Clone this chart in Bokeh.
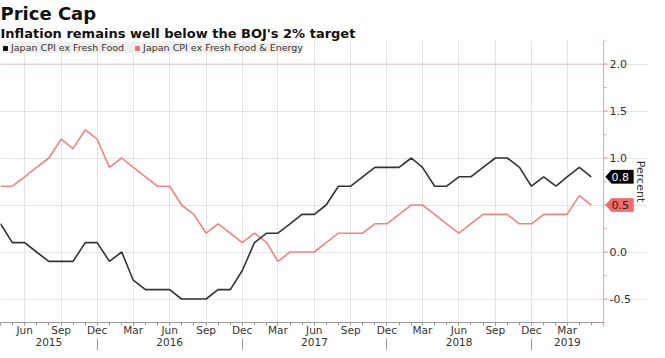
import math
import pandas as pd
from bokeh.plotting import figure
from bokeh.models import (Range1d, FixedTicker, DatetimeAxis, DatetimeTickFormatter,
                          NumeralTickFormatter, Span, Legend, LegendItem, Title, Label,
                          PolyAnnotation, ColumnDataSource)
from bokeh.embed import file_html
from bokeh.resources import INLINE

# ---------------- data ----------------
months = pd.date_range("2015-04-01", "2019-05-01", freq="MS")
cpi_ex_fresh = [0.3, 0.1, 0.1, 0.0, -0.1, -0.1, -0.1, 0.1, 0.1, -0.1,
                0.0, -0.3, -0.4, -0.4, -0.4, -0.5, -0.5, -0.5, -0.4, -0.4,
                -0.2, 0.1, 0.2, 0.2, 0.3, 0.4, 0.4, 0.5, 0.7, 0.7,
                0.8, 0.9, 0.9, 0.9, 1.0, 0.9, 0.7, 0.7, 0.8, 0.8,
                0.9, 1.0, 1.0, 0.9, 0.7, 0.8, 0.7, 0.8, 0.9, 0.8]
cpi_ex_fresh_energy = [0.7, 0.7, 0.8, 0.9, 1.0, 1.2, 1.1, 1.3, 1.2, 0.9,
                       1.0, 0.9, 0.8, 0.7, 0.7, 0.5, 0.4, 0.2, 0.3, 0.2,
                       0.1, 0.2, 0.1, -0.1, 0.0, 0.0, 0.0, 0.1, 0.2, 0.2,
                       0.2, 0.3, 0.3, 0.4, 0.5, 0.5, 0.4, 0.3, 0.2, 0.3,
                       0.4, 0.4, 0.4, 0.3, 0.3, 0.4, 0.4, 0.4, 0.6, 0.5]
series_names = ["Japan CPI ex Fresh Food", "Japan CPI ex Fresh Food & Energy"]
y_ticks = [-0.5, 0.0, 0.5, 1.0, 1.5, 2.0]
target = 2.0
title_text = "Price Cap"
subtitle_text = "Inflation remains well below the BOJ's 2% target"
y_label = "Percent"

BLACK = "#333333"
RED = "#f08580"
TAG_RED = "#f26b6b"
AXIS_RED = "#f4a3a3"
GRID = "#e4e4e4"
FONT = "DejaVu Sans"
NAN = float("nan")

W, H = 657, 350
RIGHT = 10
FRAME_W = W - RIGHT  # frame: data area + strip for value labels, tags and unit label
DATA_W = 603         # width of the data area inside the frame
FRAME_H_EST = 282


def ms(ts):
    return ts.value // 10**6


x_start = months[0]
x_end = months[-1] + pd.DateOffset(months=1)
x0_ms, x1_ms = ms(x_start), ms(x_end)
ms_per_px = (x1_ms - x0_ms) / DATA_W
Y0, Y1 = -0.75, 2.25
ppu = FRAME_H_EST / (Y1 - Y0)


def px_to_x(px):
    return x0_ms + px * ms_per_px


p = figure(width=W, height=H, output_backend="svg", toolbar_location=None,
           x_axis_type="datetime", y_axis_location="right",
           x_range=Range1d(x0_ms, px_to_x(FRAME_W)), y_range=Range1d(Y0, Y1),
           min_border_left=0, min_border_right=RIGHT, min_border_top=0, min_border_bottom=28)
p.outline_line_color = None

# titles (subtitle first so it sits next to the plot)
p.add_layout(Title(text=subtitle_text, text_font=FONT, text_font_size="13px",
                   text_font_style="bold", text_color="#111111", standoff=0, offset=0), "above")
p.add_layout(Title(text=title_text, text_font=FONT, text_font_size="18px",
                   text_font_style="bold", text_color="#111111", standoff=0, offset=0), "above")

# grids limited to the data area
p.xgrid.grid_line_color = GRID
p.ygrid.grid_line_color = GRID
p.ygrid.bounds = (x0_ms, x1_ms)

src = ColumnDataSource(dict(x=months, a=cpi_ex_fresh, b=cpi_ex_fresh_energy))
p.line("x", "b", source=src, line_color=RED, line_width=1.6)
p.line("x", "a", source=src, line_color=BLACK, line_width=1.6)

# target line
p.segment(x0=[x0_ms], x1=[x1_ms], y0=[target], y1=[target], line_color=AXIS_RED,
          line_dash="1 1", line_width=1)

# value axis line and ticks at the end of the data area
p.add_layout(Span(location=x1_ms, dimension="height", line_color=AXIS_RED, line_width=1))
minor_vals = [y_ticks[0] - 0.25 + 0.25 * i for i in range(13)]
p.segment(x0=[x1_ms] * len(y_ticks), x1=[px_to_x(DATA_W + 4)] * len(y_ticks),
          y0=y_ticks, y1=y_ticks, line_color=AXIS_RED, line_width=1)
p.segment(x0=[x1_ms] * len(minor_vals), x1=[px_to_x(DATA_W + 3)] * len(minor_vals),
          y0=minor_vals, y1=minor_vals, line_color=AXIS_RED, line_width=1)

# x axis: months
all_months = pd.date_range(x_start, x_end, freq="MS")
quarter_months = [m for m in all_months if m.month in (3, 6, 9, 12) and m < x_end]
xa = p.xaxis[0]
xa.ticker = FixedTicker(ticks=[ms(m) for m in quarter_months],
                        minor_ticks=[ms(m) for m in all_months])
xa.bounds = (x0_ms, x1_ms)
fmt_keys = ["microseconds", "milliseconds", "seconds", "minsec", "minutes",
            "hourmin", "hours", "days", "months", "years"]
xa.formatter = DatetimeTickFormatter(**{k: "%b" for k in fmt_keys})
xa.axis_line_color = "#9a9a9a"
xa.major_tick_line_color = "#9a9a9a"
xa.minor_tick_line_color = "#9a9a9a"
xa.major_tick_in = 0
xa.major_tick_out = 3
xa.minor_tick_in = 0
xa.minor_tick_out = 3
xa.major_label_standoff = -2
xa.major_label_text_font = FONT
xa.major_label_text_font_size = "10.5px"
xa.major_label_text_color = "#333333"

# x axis: years (separators at the December ticks)
decembers = [m for m in all_months if m.month == 12]
bounds = [x_start] + decembers + [x_end]
year_centers = [ms(bounds[i]) + (ms(bounds[i + 1]) - ms(bounds[i])) / 2
                for i in range(len(bounds) - 1)]
year_axis = DatetimeAxis(ticker=FixedTicker(ticks=year_centers,
                                            minor_ticks=[ms(d) for d in decembers]),
                         formatter=DatetimeTickFormatter(**{k: "%Y" for k in fmt_keys}))
year_axis.bounds = (x0_ms, x1_ms)
year_axis.axis_line_color = None
year_axis.major_tick_line_color = None
year_axis.minor_tick_line_color = "#9a9a9a"
year_axis.minor_tick_in = 0
year_axis.minor_tick_out = 15
year_axis.major_tick_out = 0
year_axis.major_tick_in = 0
year_axis.major_label_standoff = -16
year_axis.major_label_text_font = FONT
year_axis.major_label_text_font_size = "10.5px"
year_axis.major_label_text_color = "#333333"
p.add_layout(year_axis, "below")

# y axis: labels pulled back next to the value-axis line
yax = p.yaxis[0]
yax.ticker = FixedTicker(ticks=y_ticks)
yax.formatter = NumeralTickFormatter(format="0.0")
yax.axis_line_color = None
yax.major_tick_line_color = None
yax.minor_tick_line_color = None
yax.major_tick_in = 0
yax.major_tick_out = 0
yax.major_label_standoff = -(FRAME_W - DATA_W - 6)
yax.major_label_text_font = FONT
yax.major_label_text_font_size = "11px"
yax.major_label_text_color = "#333333"

# "Percent" unit label in the right strip
p.add_layout(Label(x=px_to_x(DATA_W + 37), y=(Y0 + Y1) / 2, text=y_label, angle=-math.pi / 2,
                   text_font=FONT, text_font_size="11px", text_color="#333333",
                   text_align="center", text_baseline="middle"))

# legend with square swatches
q1 = p.quad(left=[NAN], right=[NAN], top=[NAN], bottom=[NAN], fill_color="black", line_color=None)
q2 = p.quad(left=[NAN], right=[NAN], top=[NAN], bottom=[NAN], fill_color=TAG_RED, line_color=None)
legend = Legend(items=[LegendItem(label=series_names[0], renderers=[q1]),
                       LegendItem(label=series_names[1], renderers=[q2])],
                location="top_left", orientation="horizontal",
                background_fill_color="#efefef", background_fill_alpha=1,
                border_line_color=None, label_text_font=FONT,
                label_text_font_size="9.5px", label_text_color="#333333",
                glyph_width=6, glyph_height=6, label_height=11, label_standoff=3,
                spacing=10, padding=6, margin=2)
p.add_layout(legend)

# last-value tags
half = 6.7 / ppu
for val, fill, line, tcol in [(cpi_ex_fresh[-1], "black", "black", "white"),
                              (cpi_ex_fresh_energy[-1], TAG_RED, "#d45050", "#222222")]:
    xs = [px_to_x(DATA_W + 2), px_to_x(DATA_W + 8), px_to_x(DATA_W + 30),
          px_to_x(DATA_W + 30), px_to_x(DATA_W + 8)]
    ys = [val, val + half, val + half, val - half, val - half]
    p.add_layout(PolyAnnotation(xs=xs, ys=ys, fill_color=fill, fill_alpha=1,
                                line_color=line, line_width=1))
    p.add_layout(Label(x=px_to_x(DATA_W + 8), y=val, text=f"{val:.1f}",
                       text_font=FONT, text_font_size="11px", text_color=tcol,
                       text_baseline="middle", text_align="left"))

open("out.html", "w").write(file_html(p, INLINE))
